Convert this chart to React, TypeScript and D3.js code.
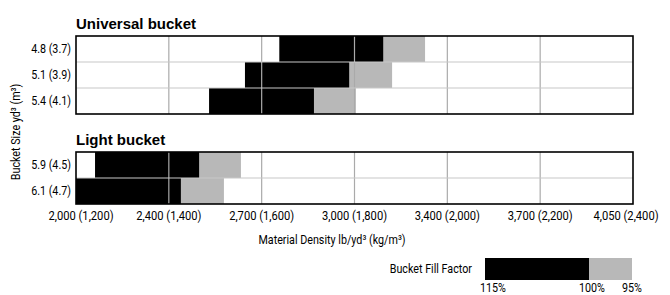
import * as d3 from "d3";
import React from "react";

// density ticks, lb/yd3 with kg/m3 in parentheses (evenly spaced on the chart)
const lbTicks = [2000, 2400, 2700, 3000, 3400, 3700, 4050];
const kgTicks = [1200, 1400, 1600, 1800, 2000, 2200, 2400];

// Universal bucket: density at 115%, 100% and 95% fill
const universalSizes = ["4.8 (3.7)", "5.1 (3.9)", "5.4 (4.1)"];
const universal115 = [2757, 2646, 2530];
const universal100 = [3124, 2983, 2869];
const universal95 = [3304, 3162, 3006];

// Light bucket
const lightSizes = ["5.9 (4.5)", "6.1 (4.7)"];
const light115 = [2082, 2000];
const light100 = [2498, 2439];
const light95 = [2633, 2578];

const fillStops = [115, 100, 95];

const W = 670;
const H = 295;
const left = 76;
const right = 633;
const rowH = 26;
const FONT = "Roboto, 'Liberation Sans', Arial, sans-serif";
const BLACK = "#000";
const GRAY = "#b8b8b8";

const fmt = d3.format(",");

const x = d3
  .scaleLinear()
  .domain(lbTicks)
  .range(lbTicks.map((_, i) => left + (i * (right - left)) / (lbTicks.length - 1)))
  .clamp(true);

// condensed-looking text: squeeze glyphs horizontally
type CTextProps = {
  x: number;
  y: number;
  anchor?: "start" | "middle" | "end";
  size?: number;
  rotate?: number;
  dy?: string;
  children: React.ReactNode;
};
const CText = ({ x, y, anchor = "start", size = 12.5, rotate, dy, children }: CTextProps) => (
  <text
    transform={`translate(${x},${y})${rotate ? ` rotate(${rotate})` : ""} scale(0.86,1)`}
    textAnchor={anchor}
    fontSize={size}
    fontFamily={FONT}
    dy={dy}
  >
    {children}
  </text>
);

type PanelProps = {
  title: string;
  top: number;
  sizes: string[];
  d115: number[];
  d100: number[];
  d95: number[];
};

const Panel = ({ title, top, sizes, d115, d100, d95 }: PanelProps) => {
  const y = d3
    .scaleBand<string>()
    .domain(sizes)
    .range([top, top + rowH * sizes.length]);
  const bottom = top + rowH * sizes.length;
  return (
    <g>
      <text x={left} y={top - 7} fontSize={15} fontWeight="bold" fontFamily="'Liberation Sans', Arial, sans-serif">
        {title}
      </text>
      {sizes.map((s, i) => (
        <g key={s}>
          <rect x={x(d100[i])} y={y(s)} width={x(d95[i]) - x(d100[i])} height={y.bandwidth()} fill={GRAY} />
          <rect x={x(d115[i])} y={y(s)} width={x(d100[i]) - x(d115[i])} height={y.bandwidth()} fill={BLACK} />
          <CText x={left - 5} y={(y(s) as number) + y.bandwidth() / 2} dy="0.35em" anchor="end" size={12.5}>
            {s}
          </CText>
        </g>
      ))}
      {/* grid on top of bars */}
      {lbTicks.slice(1, -1).map((t) => (
        <line key={t} x1={x(t)} x2={x(t)} y1={top} y2={bottom} stroke="#aaa" strokeWidth={1.2} />
      ))}
      {sizes.slice(1).map((s) => (
        <line key={s} x1={left} x2={right} y1={y(s)} y2={y(s)} stroke="#c8c8c8" strokeWidth={1.2} />
      ))}
      <rect x={left} y={top} width={right - left} height={bottom - top} fill="none" stroke="#000" strokeWidth={1.6} />
    </g>
  );
};

export default function App() {
  const legendX = d3.scaleLinear().domain(fillStops).range([485, 589, 632]);
  return (
    <svg width={W} height={H} style={{ position: "absolute", left: 0, top: 0, background: "#fff" }}>
      <Panel title="Universal bucket" top={36} sizes={universalSizes} d115={universal115} d100={universal100} d95={universal95} />
      <Panel title="Light bucket" top={152} sizes={lightSizes} d115={light115} d100={light100} d95={light95} />

      {lbTicks.map((t, i) => (
        <CText key={t} x={x(t) + (i === 0 ? 5 : i === lbTicks.length - 1 ? -7 : 0)} y={220} anchor="middle" size={13}>
          {`${fmt(t)} (${fmt(kgTicks[i])})`}
        </CText>
      ))}
      <CText x={332} y={244} anchor="middle" size={12.5}>
        Material Density lb/yd³ (kg/m³)
      </CText>
      <CText x={20} y={132} rotate={-90} anchor="middle" size={12.5}>
        Bucket Size yd³ (m³)
      </CText>

      {/* legend */}
      <CText x={472} y={269} dy="0.35em" anchor="end" size={12.5}>
        Bucket Fill Factor
      </CText>
      <rect x={legendX(100)} y={258} width={legendX(95) - legendX(100)} height={22} fill={GRAY} />
      <rect x={legendX(115)} y={258} width={legendX(100) - legendX(115)} height={22} fill={BLACK} />
      {fillStops.map((f, i) => (
        <CText key={f} x={legendX(f) + (i === 0 ? 8 : i === 1 ? 3 : 0)} y={292} anchor="middle" size={12.5}>
          {`${f}%`}
        </CText>
      ))}
    </svg>
  );
}
